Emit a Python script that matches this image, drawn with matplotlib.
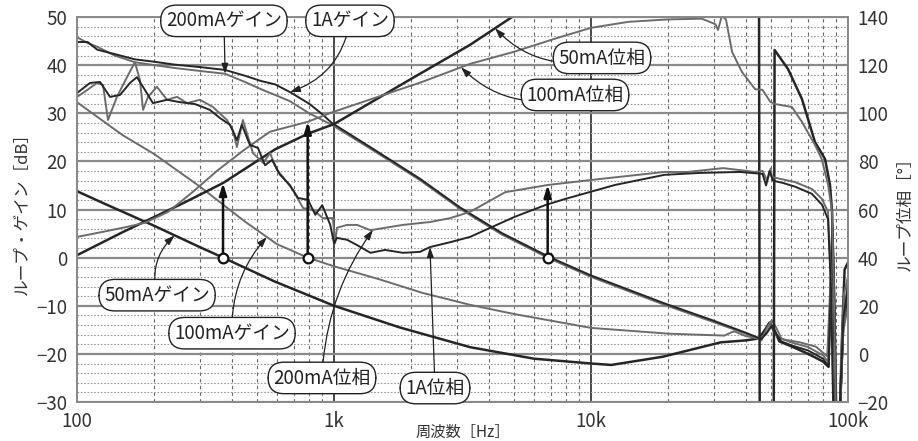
import numpy as np
import matplotlib.pyplot as plt
from matplotlib.ticker import LogLocator, NullFormatter

plt.rcParams['font.family'] = ['Noto Sans CJK JP', 'DejaVu Sans']

# ---- gain curves [dB] (left axis) ----
f_g50 = [100, 128, 200, 300, 370, 590, 1000, 1800, 3380, 6000,
         10000, 12000, 19000, 32000, 40000, 45000, 47500, 49500, 51500, 54000,
         60000, 70000, 80000, 84000, 85500, 87000, 88500, 90000, 93000, 96000, 100000]
g50 = [13.8, 11.2, 6.6, 2.2, 0, -5, -10, -14.5, -18.6, -21,
       -22, -22.3, -20.6, -17.6, -17.2, -16.8, -15, -13.5, -14.8, -17.4,
       -18.4, -20, -21.6, -22.7, -8, 6, -10, -32, -32, -12, -8]

f_g100 = [100, 150, 200, 300, 450, 600, 790, 1000, 1500, 2200,
          3380, 5000, 10000, 20000, 33000, 36000, 40000, 45000, 48000, 50000,
          52000, 56000, 65000, 75000, 83000, 85500, 87000, 88500, 90000, 93000, 96000, 100000]
g100 = [32.3, 25.5, 21.5, 14.8, 7.5, 2.8, 0, -1.8, -4.5, -7.3,
        -9.8, -11.7, -14.6, -15.8, -16.2, -15.3, -16.3, -16.8, -16, -14,
        -16, -17, -17.6, -18.5, -20.5, -5, 4, -12, -32, -32, -15, -10]

f_g200 = [100, 110, 120, 140, 168, 200, 240, 300, 377, 450,
          520, 590, 674, 800, 900, 980, 1390, 2160, 3100, 4500,
          6900, 10000, 19300, 30000, 40000, 46000, 48500, 50500, 52500, 55000,
          60000, 70000, 80000, 84000, 85500, 87000, 88500, 90000, 93000, 96000, 100000]
g200 = [45.8, 44.6, 43.8, 42, 40.6, 40, 39.4, 38.8, 38.2, 36.5,
        35, 33.8, 32.5, 30, 28.6, 27.6, 22.6, 16.1, 10.1, 4.8,
        -0.2, -4, -9.8, -13.4, -15.8, -17.2, -14.5, -13, -14.5, -16.8,
        -17.6, -18.6, -20.3, -21.8, -6, 7, -8, -32, -32, -14, -9]
f_g1a = f_g200
g1a = [44.8, 44.8, 43.2, 42.3, 41.2, 40.7, 40.1, 39.6, 39, 37.8,
       36.7, 36, 34.4, 32, 29.8, 28, 22.9, 16.4, 10.4, 5.1,
       0.1, -3.7, -9.5, -13.1, -15.6, -16.9, -15.5, -14.2, -15.8, -17.4,
       -18.2, -19.3, -21, -22.6, -8, 5, -10, -32, -32, -13, -8]

# ---- phase curves [deg] (right axis) ----
f_p50 = [100, 150, 263, 370, 590, 792, 1000, 1975, 3380, 4930,
         10000, 20000, 45000, 45600, 51000, 51800, 58400, 66200, 74400, 81400,
         85100, 86700, 88000, 89500, 91000, 93000, 95000, 97000, 100000]
p50 = [41, 50.5, 63, 71, 85, 91.5, 95.5, 114, 128.4, 140,
       158, 172, 185, -190, -190, 126.3, 118.4, 105.9, 88, 81,
       70.2, 59, 20, -30, -60, -30, 10, 35, 38]

f_p100 = [100, 130, 160, 184, 226, 280, 350, 450, 563, 792,
          990, 1500, 2200, 3380, 5000, 7500, 10000, 14000, 20000, 27000,
          30500, 31200, 32300, 33500, 35400, 38700, 43500, 46500, 49900, 52200,
          60500, 66200, 74400, 79000, 83700, 86700, 88500, 90000, 92000, 94000, 96500, 100000]
p100 = [48.6, 51, 53, 54.5, 59, 67, 76, 85, 92.3, 96.5,
        100.5, 107, 113, 120.5, 125.5, 131.5, 135.5, 138, 139, 139.3,
        137, 134.6, 140.5, 139, 125.5, 117.1, 110, 109.7, 104.7, 103.8,
        102.6, 96.4, 86.8, 81, 70.2, 59, 15, -40, -40, 0, 25, 32]

f_p200 = [100, 109.4, 119.6, 126.2, 132, 143, 156.5, 168, 175.8, 180.7,
          189, 204.6, 224, 245, 268, 301, 338, 383, 404, 419,
          442, 458, 484, 530, 564, 600, 634, 693, 758, 830,
          906, 990, 1010, 1027, 1125, 1230, 1386, 1580, 1855, 2365,
          2830, 3380, 4640, 6800, 10670, 19300, 23700, 32700, 43500, 46500,
          48500, 50000, 50600, 62200, 72400, 79200, 83600, 86000, 88000, 90000,
          93000, 96000, 100000]
p200 = [106.8, 109.6, 112.6, 111.8, 97.2, 106.8, 115, 121.2, 113.8, 101.4,
        106.8, 111, 105.6, 106.8, 104.2, 105.6, 102.6, 97.2, 93, 86,
        97.2, 91.8, 83.4, 79.4, 83.4, 76.4, 73.4, 68, 60.6, 59.8,
        56.4, 56.4, 46, 52.4, 53.6, 53.6, 51.4, 52.4, 53.6, 54.8,
        56.4, 59, 67.2, 70.2, 72.6, 75.6, 75.6, 77.2, 75.6, 76,
        72, 77, 73.5, 71.4, 68.5, 64.4, 59, 30, -30, -45,
        -25, 12, 32]

f_p1a = [100, 112.4, 122.9, 134.4, 147, 160.8, 171, 184, 197.5, 224,
         252, 288, 329, 360, 394, 419, 438, 471, 506, 539,
         574, 617, 673, 724, 792, 846, 900, 967, 1000, 1027,
         1125, 1230, 1386, 1580, 1855, 2160, 2365, 2830, 3380, 5060,
         6630, 7940, 12400, 19300, 26500, 38000, 46500, 48000, 49500, 51000,
         56000, 62200, 72400, 79200, 83600, 86000, 88000, 90000, 93000, 96000, 100000]
p1a = [108.4, 112.6, 113, 106.8, 107.6, 112.6, 115, 109.6, 104.2, 105.6,
       104.6, 103.8, 101.4, 98, 95.2, 88.8, 95.2, 86.8, 85.6, 78.4,
       80.6, 74.4, 70.2, 64.8, 64, 57.8, 61.8, 53.6, 46, 48.2,
       47.4, 45.2, 42, 43.2, 42, 42.4, 44.4, 46.4, 48.6, 57,
       61.8, 64.4, 70.2, 74.4, 75.2, 75.6, 74.8, 70, 76, 72,
       71, 69.5, 66.5, 62, 56, 25, -35, -40, -20, 15, 28]

x_ticks = [100, 1000, 10000, 100000]
x_labels = ['100', '1k', '10k', '100k']

dark = '#262626'
gray = '#6c6c6c'


def at(f, fs, vs):
    return np.interp(np.log10(f), np.log10(fs), vs)


def crossover(fs, gs, fmax):
    fs = np.asarray(fs, float)
    gs = np.asarray(gs, float)
    m = fs < fmax
    return 10 ** np.interp(0, gs[m][::-1], np.log10(fs[m])[::-1])


fig = plt.figure(figsize=(9.18, 4.41), dpi=100)
ax = fig.add_axes([77 / 918, 1 - 402 / 441, 771 / 918, 385 / 441])
ax2 = ax.twinx()

ax.set_xscale('log')

# grid
ax.set_yticks(range(-30, 51, 10))
ax.set_yticks(range(-30, 51, 2), minor=True)
ax.xaxis.set_minor_locator(LogLocator(base=10, subs=np.arange(2, 10)))
ax.xaxis.set_minor_formatter(NullFormatter())
ax.grid(which='minor', axis='y', color='#9a9a9a', lw=0.8, ls=(0, (1.5, 1.5)))
ax.grid(which='minor', axis='x', color='#666666', lw=0.8, ls=(0, (3, 3)))
ax.grid(which='major', axis='y', color='#8a8a8a', lw=1.6)
ax.grid(which='major', axis='x', color='#3a3a3a', lw=1.3)
ax.set_axisbelow(True)

# curves
ax.plot(f_g50, g50, color=dark, lw=1.8)
ax.plot(f_g100, g100, color=gray, lw=1.4)
ax.plot(f_g200, g200, color=gray, lw=1.4)
ax.plot(f_g1a, g1a, color=dark, lw=1.4)
ax2.plot(f_p50, p50, color=dark, lw=1.8)
ax2.plot(f_p100, p100, color=gray, lw=1.4)
ax2.plot(f_p200, p200, color=gray, lw=1.4)
ax2.plot(f_p1a, p1a, color=dark, lw=1.4)

# crossover arrows (gain 0 dB -> phase)
for fs, gs, fps, ps, fmax in [(f_g50, g50, f_p50, p50, 3000),
                              (f_g100, g100, f_p100, p100, 3000),
                              (f_g200, g200, f_p200, p200, 20000)]:
    fc = crossover(fs, gs, fmax)
    ax2.annotate('', xy=(fc, at(fc, fps, ps)), xytext=(fc, 0),
                 textcoords=ax.transData,
                 arrowprops=dict(arrowstyle='-|>,head_length=0.7,head_width=0.22',
                                 color='#111111', lw=1.8, shrinkA=3, shrinkB=0),
                 zorder=8)
    ax2.plot([fc], [0], marker='o', ms=7, mfc='white', mec='#111111', mew=1.6,
             transform=ax.transData, zorder=9, clip_on=False)

# labels
box = dict(boxstyle='round,pad=0.28,rounding_size=0.85', fc='white', ec='#222222', lw=1.0)
labels = [
    ('200mAゲイン', 373, 49.2, 377, f_g200, g200, False, 0.0),
    ('1Aゲイン', 1154, 49.2, 674, f_g1a, g1a, False, -0.3),
    ('50mA位相', 11040, 41.5, 4232, f_p50, p50, True, -0.3),
    ('100mA位相', 8665, 33.8, 3120, f_p100, p100, True, -0.3),
    ('50mAゲイン', 205, -7.8, 240, f_g50, g50, False, -0.3),
    ('100mAゲイン', 401, -15.7, 548, f_g100, g100, False, -0.2),
    ('200mA位相', 898, -25.0, 1418, f_p200, p200, True, -0.15),
    ('1A位相', 2472, -27.1, 2363, f_p1a, p1a, True, 0.0),
]
for text, fx, fy, tf, fs, vs, phase, rad in labels:
    trans = ax2.transData if phase else ax.transData
    ax2.annotate(text, xy=(tf, at(tf, fs, vs)), xycoords=trans,
                 xytext=(fx, fy), textcoords=ax.transData,
                 ha='center', va='center', fontsize=13.5, color='#222222',
                 bbox=box, zorder=10, annotation_clip=False,
                 arrowprops=dict(arrowstyle='-|>,head_length=0.45,head_width=0.15',
                                 color='#222222', lw=0.9, shrinkA=0, shrinkB=0,
                                 connectionstyle=f'arc3,rad={rad}'))

# axes
ax.set_xlim(100, 100000)
ax.set_ylim(-30, 50)
ax2.set_ylim(-20, 140)
ax.set_xticks(x_ticks)
ax.set_xticklabels(x_labels)
ax.set_yticklabels([f'{v}'.replace('-', '−') for v in range(-30, 51, 10)])
ax2.set_yticks(range(-20, 141, 20))
ax2.set_yticklabels([f'{v}'.replace('-', '−') for v in range(-20, 141, 20)])
ax.tick_params(which='both', length=0, labelsize=13.5, colors='#333333', pad=7)
ax.tick_params(axis='x', pad=6.5)
ax2.tick_params(which='both', length=0, labelsize=13.5, colors='#333333', pad=7)

for a in (ax, ax2):
    for s in a.spines.values():
        s.set_color('#8a8a8a')
        s.set_linewidth(1.3)

ax.set_xlabel('周波数［Hz］', fontsize=11, color='#333333', va='center')
ax.xaxis.set_label_coords(0.5, -0.079)
ax.set_ylabel('ループ・ゲイン［dB］', fontsize=12, color='#333333', labelpad=4)
ax2.set_ylabel('ループ位相［°］', fontsize=12, color='#333333', labelpad=6)

fig.savefig('out.png', dpi=100)
plt.close(fig)
